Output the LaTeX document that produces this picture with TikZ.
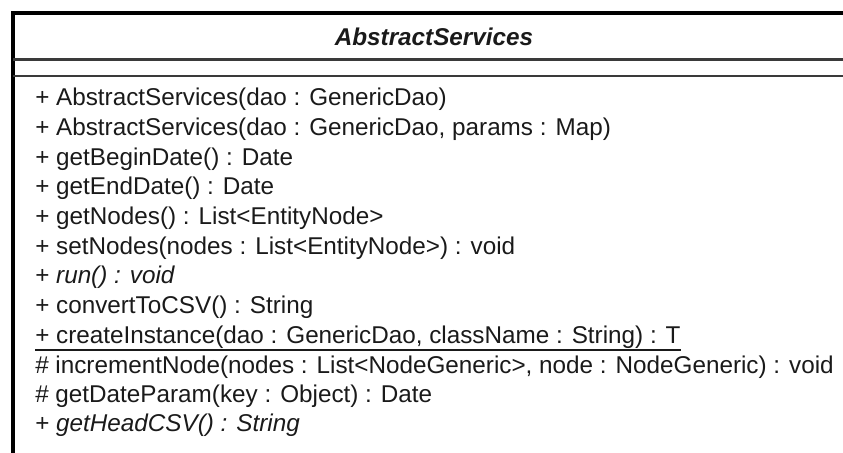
\documentclass[tikz,border=0pt]{standalone}
\usepackage{fontspec}
\setmainfont{Liberation Sans}
\usepackage{xcolor}
\definecolor{umlborder}{HTML}{000000}
\definecolor{umlsep}{HTML}{3A3A3A}
\definecolor{umltext}{HTML}{1A1A1A}
\usepackage{tikz}

\begin{document}
\begin{tikzpicture}[x=0.75pt, y=-0.75pt,
  member/.style={anchor=base west, inner sep=0pt, text=umltext,
                 font=\fontsize{18.2}{22}\selectfont},
  classname/.style={anchor=base, inner sep=0pt, text=umltext,
                    font=\fontsize{18.2}{22}\selectfont\bfseries\itshape},
  border/.style={draw=umlborder, line width=3pt},
  compsep/.style={draw=umlsep, line width=1.8pt}
]
  \useasboundingbox (0,0) rectangle (843,453);
  \clip (0,0) rectangle (843,453);

  % Class box
  \draw[border] (13,13) rectangle (870,480);
  \draw[compsep] (13,59.5) -- (870,59.5);
  \draw[compsep] (13,76) -- (870,76);

  % Name compartment
  \node[classname] (cname) at (434,46) {AbstractServices};

  % Operations
  \node[member] (op1) at (35,106) {+ AbstractServices(dao : GenericDao)};
  \node[member] (op2) at (35,135.6) {+ AbstractServices(dao : GenericDao, params : Map)};
  \node[member] (op3) at (35,165.2) {+ getBeginDate() : Date};
  \node[member] (op4) at (35,194.8) {+ getEndDate() : Date};
  \node[member] (op5) at (35,224.4) {+ getNodes() : List<EntityNode>};
  \node[member] (op6) at (35,254) {+ setNodes(nodes : List<EntityNode>) : void};
  \node[member] (op7) at (35,283.6) {+ \textit{run() : void}};
  \node[member] (op8) at (35,313.2) {+ convertToCSV() : String};
  \node[member] (op9) at (35,343.5) {+ createInstance(dao : GenericDao, className : String) : T};
  \node[member] (op10) at (35,373) {\# incrementNode(nodes : List<NodeGeneric>, node : NodeGeneric) : void};
  \node[member] (op11) at (35,402) {\# getDateParam(key : Object) : Date};
  \node[member] (op12) at (35,431) {+ \textit{getHeadCSV() : String}};

  % static member is underlined
  \draw[umltext, line width=1.5pt] ([yshift=-4.5pt]op9.base west) -- ([yshift=-4.5pt]op9.base east);
\end{tikzpicture}
\end{document}
